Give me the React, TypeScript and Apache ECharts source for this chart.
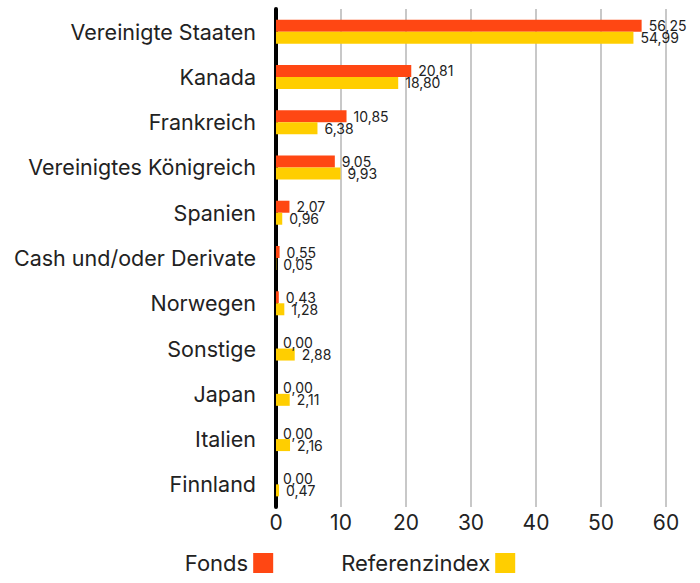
import React, { useEffect, useRef } from "react";
import * as echarts from "echarts";

const categories = [
  "Vereinigte Staaten",
  "Kanada",
  "Frankreich",
  "Vereinigtes Königreich",
  "Spanien",
  "Cash und/oder Derivate",
  "Norwegen",
  "Sonstige",
  "Japan",
  "Italien",
  "Finnland",
];
const fonds = [56.25, 20.81, 10.85, 9.05, 2.07, 0.55, 0.43, 0.0, 0.0, 0.0, 0.0];
const referenz = [54.99, 18.8, 6.38, 9.93, 0.96, 0.05, 1.28, 2.88, 2.11, 2.16, 0.47];
const seriesNames = ["Fonds", "Referenzindex"];
const colors = ["#ff4713", "#ffce00"];

const FONT = "Inter, 'Open Sans', sans-serif";

export default function App() {
  const ref = useRef<HTMLDivElement>(null);
  useEffect(() => {
    document.body.style.margin = "0";
    const chart = echarts.init(ref.current!, null, { renderer: "svg" });
    const fmt = (p: any) => Number(p.value).toFixed(2).replace(".", ",");
    const label = {
      show: true,
      position: "right" as const,
      distance: 7,
      color: "#222",
      fontSize: 14,
      fontFamily: FONT,
      formatter: fmt,
    };
    chart.setOption({
      animation: false,
      color: colors,
      textStyle: { fontFamily: FONT },
      grid: { left: 276, right: 34, top: 9, bottom: 76 },
      legend: {
        bottom: 4,
        left: "center",
        align: "right",
        itemWidth: 20,
        itemHeight: 20,
        itemGap: 68,
        icon: "rect",
        textStyle: { fontSize: 22, color: "#222", fontFamily: FONT },
        data: seriesNames,
      },
      xAxis: {
        type: "value",
        min: 0,
        max: 60,
        interval: 10,
        axisLine: { show: false },
        axisTick: { show: false },
        axisLabel: { fontSize: 21, color: "#222", margin: 5, fontFamily: FONT },
        splitLine: { lineStyle: { color: "#c8c8c8", width: 2 } },
      },
      yAxis: {
        type: "category",
        data: categories,
        inverse: true,
        axisLine: { show: true, lineStyle: { color: "#000", width: 4 } },
        axisTick: { show: false },
        axisLabel: { fontSize: 21.5, color: "#222", margin: 20, fontFamily: FONT },
      },
      series: [
        {
          name: seriesNames[0],
          type: "bar",
          data: fonds,
          barWidth: 12,
          barGap: "0%",
          label,
        },
        {
          name: seriesNames[1],
          type: "bar",
          data: referenz,
          barWidth: 12,
          barGap: "0%",
          label,
        },
      ],
    });
    return () => chart.dispose();
  }, []);
  return <div ref={ref} style={{ width: 700, height: 583 }} />;
}
